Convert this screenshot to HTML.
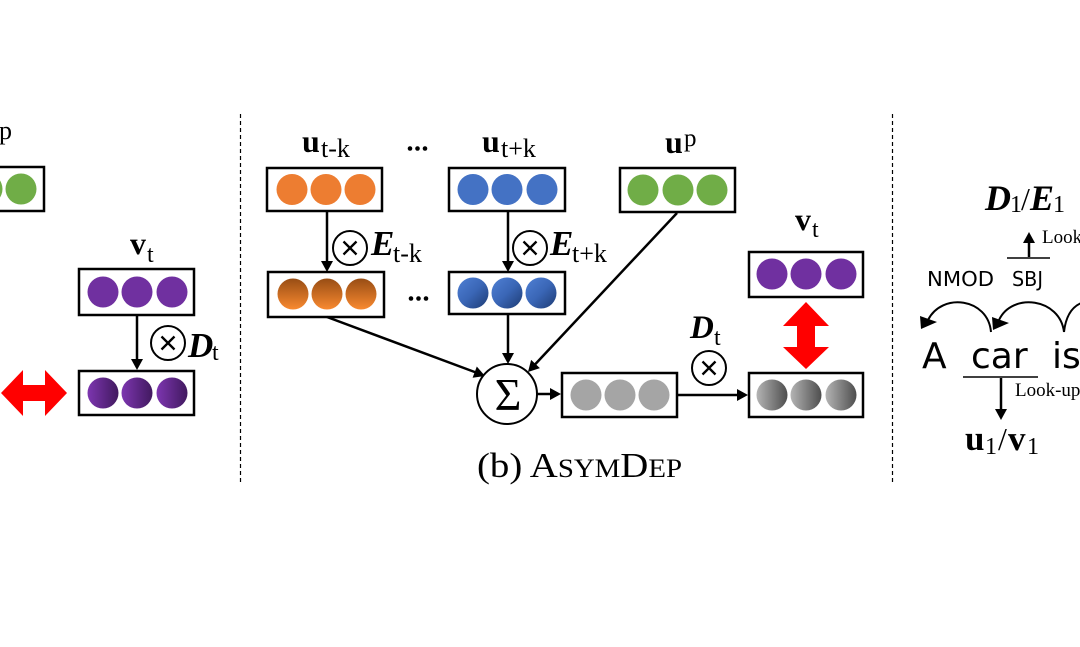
<!DOCTYPE html>
<html><head><meta charset="utf-8"><style>
html,body{margin:0;padding:0;background:#fff;width:1080px;height:647px;overflow:hidden}
svg{display:block}
.m{font-family:"Liberation Serif",serif}
.s{font-family:"DejaVu Sans","Liberation Sans",sans-serif}
</style></head><body>
<svg width="1080" height="647" viewBox="0 0 1080 647" xmlns="http://www.w3.org/2000/svg">
<defs>
<linearGradient id="gp" x1="0" y1="0" x2="1" y2="0"><stop offset="0" stop-color="#7d36b0"/><stop offset="1" stop-color="#41195f"/></linearGradient>
<linearGradient id="go" x1="0" y1="0" x2="0" y2="1"><stop offset="0" stop-color="#984d14"/><stop offset="1" stop-color="#f98a30"/></linearGradient>
<linearGradient id="gb" x1="0" y1="0" x2="1" y2="1"><stop offset="0" stop-color="#4f80d4"/><stop offset="0.5" stop-color="#3a66b6"/><stop offset="1" stop-color="#1d3b73"/></linearGradient>
<linearGradient id="gg" x1="0" y1="0" x2="1" y2="0"><stop offset="0" stop-color="#b4b4b4"/><stop offset="1" stop-color="#4e4e4e"/></linearGradient>
</defs>
<rect width="1080" height="647" fill="#fff"/>

<!-- dashed separators -->
<line x1="240.5" y1="114" x2="240.5" y2="482" stroke="#000" stroke-width="1.2" stroke-dasharray="4 3"/>
<line x1="892.5" y1="114" x2="892.5" y2="482" stroke="#000" stroke-width="1.2" stroke-dasharray="4 3"/>

<!-- ===== LEFT PANEL ===== -->
<text class="m" x="-1" y="139" font-size="26">p</text>
<rect x="-10" y="167" width="54" height="44" fill="#fff" stroke="#000" stroke-width="2.5"/>
<circle cx="-13" cy="189" r="15.5" fill="#70ad47"/>
<circle cx="21" cy="189" r="15.5" fill="#70ad47"/>

<text class="m" x="130" y="254" font-size="32" font-weight="bold">v</text>
<text class="m" x="147" y="262" font-size="24">t</text>
<rect x="79" y="269" width="115" height="46" fill="#fff" stroke="#000" stroke-width="2.5"/>
<circle cx="103" cy="292" r="15.5" fill="#7030a0"/>
<circle cx="137" cy="292" r="15.5" fill="#7030a0"/>
<circle cx="172" cy="292" r="15.5" fill="#7030a0"/>

<line x1="137" y1="316" x2="137" y2="360" stroke="#000" stroke-width="2.5"/>
<polygon points="131,359 143,359 137,370" fill="#000"/>
<circle cx="168" cy="343" r="17" fill="#fff" stroke="#000" stroke-width="2"/>
<path d="M161.5,336.5 L174.5,349.5 M174.5,336.5 L161.5,349.5" stroke="#000" stroke-width="2.3"/>
<text class="m" x="188" y="357" font-size="35" font-weight="bold" font-style="italic">D</text>
<text class="m" x="212" y="360" font-size="24">t</text>

<rect x="79" y="371" width="115" height="44" fill="#fff" stroke="#000" stroke-width="2.5"/>
<circle cx="103" cy="393" r="15.5" fill="url(#gp)"/>
<circle cx="137" cy="393" r="15.5" fill="url(#gp)"/>
<circle cx="172" cy="393" r="15.5" fill="url(#gp)"/>

<polygon points="1,393 23,370 23,385 45,385 45,370 67,393 45,416 45,401 23,401 23,416" fill="#ff0000"/>

<!-- ===== MIDDLE PANEL ===== -->
<text class="m" x="302" y="152" font-size="32" font-weight="bold">u</text>
<text class="m" x="321" y="157" font-size="26">t-k</text>
<circle cx="410" cy="148.5" r="2.3" fill="#000"/>
<circle cx="417.5" cy="148.5" r="2.3" fill="#000"/>
<circle cx="425" cy="148.5" r="2.3" fill="#000"/>
<text class="m" x="482" y="152" font-size="32" font-weight="bold">u</text>
<text class="m" x="501" y="157" font-size="26">t+k</text>
<text class="m" x="665" y="153" font-size="32" font-weight="bold">u</text>
<text class="m" x="684" y="146" font-size="25">p</text>

<rect x="267" y="168" width="115" height="43" fill="#fff" stroke="#000" stroke-width="2.5"/>
<circle cx="292" cy="189.5" r="15.5" fill="#ed7d31"/>
<circle cx="326" cy="189.5" r="15.5" fill="#ed7d31"/>
<circle cx="360" cy="189.5" r="15.5" fill="#ed7d31"/>

<rect x="449" y="168" width="116" height="43" fill="#fff" stroke="#000" stroke-width="2.5"/>
<circle cx="473" cy="189.5" r="15.5" fill="#4472c4"/>
<circle cx="507" cy="189.5" r="15.5" fill="#4472c4"/>
<circle cx="542" cy="189.5" r="15.5" fill="#4472c4"/>

<rect x="620" y="168" width="115" height="44" fill="#fff" stroke="#000" stroke-width="2.5"/>
<circle cx="643" cy="190" r="15.5" fill="#70ad47"/>
<circle cx="678" cy="190" r="15.5" fill="#70ad47"/>
<circle cx="712" cy="190" r="15.5" fill="#70ad47"/>

<!-- down arrows with E -->
<line x1="327" y1="212" x2="327" y2="262" stroke="#000" stroke-width="2.5"/>
<polygon points="321,261 333,261 327,272" fill="#000"/>
<circle cx="350" cy="248" r="17" fill="#fff" stroke="#000" stroke-width="2"/>
<path d="M343.5,241.5 L356.5,254.5 M356.5,241.5 L343.5,254.5" stroke="#000" stroke-width="2.3"/>
<text class="m" x="371" y="255" font-size="35" font-weight="bold" font-style="italic">E</text>
<text class="m" x="393" y="262" font-size="26">t-k</text>

<line x1="508" y1="212" x2="508" y2="262" stroke="#000" stroke-width="2.5"/>
<polygon points="502,261 514,261 508,272" fill="#000"/>
<circle cx="530" cy="248" r="17" fill="#fff" stroke="#000" stroke-width="2"/>
<path d="M523.5,241.5 L536.5,254.5 M536.5,241.5 L523.5,254.5" stroke="#000" stroke-width="2.3"/>
<text class="m" x="550" y="255" font-size="35" font-weight="bold" font-style="italic">E</text>
<text class="m" x="572" y="262" font-size="26">t+k</text>

<rect x="268" y="272" width="116" height="45" fill="#fff" stroke="#000" stroke-width="2.5"/>
<circle cx="293" cy="294" r="15.5" fill="url(#go)"/>
<circle cx="327" cy="294" r="15.5" fill="url(#go)"/>
<circle cx="361" cy="294" r="15.5" fill="url(#go)"/>
<circle cx="411" cy="298.5" r="2.3" fill="#000"/>
<circle cx="418.5" cy="298.5" r="2.3" fill="#000"/>
<circle cx="426" cy="298.5" r="2.3" fill="#000"/>

<rect x="449" y="272" width="116" height="42" fill="#fff" stroke="#000" stroke-width="2.5"/>
<circle cx="473" cy="293" r="15.5" fill="url(#gb)"/>
<circle cx="507" cy="293" r="15.5" fill="url(#gb)"/>
<circle cx="541" cy="293" r="15.5" fill="url(#gb)"/>

<!-- arrows into sigma -->
<line x1="327" y1="317" x2="476" y2="372.5" stroke="#000" stroke-width="2.5"/>
<polygon points="472.6,377.8 476.8,366.5 485,376" fill="#000"/>
<line x1="508" y1="315" x2="508" y2="354" stroke="#000" stroke-width="2.5"/>
<polygon points="502,353 514,353 508,364" fill="#000"/>
<line x1="677" y1="213" x2="534.5" y2="365" stroke="#000" stroke-width="2.5"/>
<polygon points="531.1,359.9 539.9,368.1 528,372" fill="#000"/>

<circle cx="507" cy="394" r="30" fill="#fff" stroke="#000" stroke-width="2"/>
<text class="m" x="508" y="410" font-size="46" text-anchor="middle">Σ</text>

<line x1="537" y1="394" x2="551" y2="394" stroke="#000" stroke-width="2.5"/>
<polygon points="550,388 550,400 561,394" fill="#000"/>

<rect x="562" y="373" width="115" height="44" fill="#fff" stroke="#000" stroke-width="2.5"/>
<circle cx="586" cy="395" r="15.5" fill="#a5a5a5"/>
<circle cx="620" cy="395" r="15.5" fill="#a5a5a5"/>
<circle cx="654" cy="395" r="15.5" fill="#a5a5a5"/>

<line x1="677" y1="395" x2="738" y2="395" stroke="#000" stroke-width="2.5"/>
<polygon points="737,389 737,401 748,395" fill="#000"/>
<circle cx="709" cy="368" r="17" fill="#fff" stroke="#000" stroke-width="2"/>
<path d="M702.5,361.5 L715.5,374.5 M715.5,361.5 L702.5,374.5" stroke="#000" stroke-width="2.3"/>
<text class="m" x="690" y="338" font-size="33" font-weight="bold" font-style="italic">D</text>
<text class="m" x="714" y="345" font-size="24">t</text>

<rect x="749" y="373" width="114" height="44" fill="#fff" stroke="#000" stroke-width="2.5"/>
<circle cx="772" cy="395" r="15.5" fill="url(#gg)"/>
<circle cx="806" cy="395" r="15.5" fill="url(#gg)"/>
<circle cx="841" cy="395" r="15.5" fill="url(#gg)"/>

<text class="m" x="795" y="230" font-size="32" font-weight="bold">v</text>
<text class="m" x="812" y="237" font-size="24">t</text>
<rect x="749" y="252" width="114" height="45" fill="#fff" stroke="#000" stroke-width="2.5"/>
<circle cx="772" cy="274" r="15.5" fill="#7030a0"/>
<circle cx="806" cy="274" r="15.5" fill="#7030a0"/>
<circle cx="841" cy="274" r="15.5" fill="#7030a0"/>

<polygon points="806,302 829,326 815,326 815,347 829,347 806,369 783,347 797,347 797,326 783,326" fill="#ff0000"/>

<text class="m" x="477" y="477" font-size="35" textLength="205" lengthAdjust="spacingAndGlyphs">(b) A<tspan font-size="26">SYM</tspan>D<tspan font-size="26">EP</tspan></text>

<!-- ===== RIGHT PANEL ===== -->
<text class="m" x="985" y="210" font-size="36" font-weight="bold" font-style="italic">D</text>
<text class="m" x="1010" y="212" font-size="24">1</text>
<text class="m" x="1021" y="210" font-size="32">/</text>
<text class="m" x="1030" y="210" font-size="36" font-weight="bold" font-style="italic">E</text>
<text class="m" x="1053" y="212" font-size="24">1</text>

<line x1="1029" y1="257" x2="1029" y2="242" stroke="#000" stroke-width="2.5"/>
<polygon points="1023,243 1035,243 1029,232" fill="#000"/>
<text class="m" x="1042" y="243" font-size="19">Look-up</text>
<line x1="1007" y1="258" x2="1050" y2="258" stroke="#000" stroke-width="1.5"/>

<text class="s" x="927" y="286" font-size="20" textLength="67" lengthAdjust="spacingAndGlyphs">NMOD</text>
<text class="s" x="1012" y="286" font-size="20" textLength="31" lengthAdjust="spacingAndGlyphs">SBJ</text>

<path d="M991,332 C988,298 942,292 928,320" fill="none" stroke="#000" stroke-width="2"/>
<polygon points="921,329 920,316 937,322" fill="#000"/>
<path d="M1064,332 C1060,298 1012,292 999,320" fill="none" stroke="#000" stroke-width="2"/>
<polygon points="993,330 992,317 1009,323" fill="#000"/>
<path d="M1064,332 C1066,314 1074,305 1084,302" fill="none" stroke="#000" stroke-width="2"/>

<text class="s" x="922" y="368" font-size="36">A</text>
<text class="s" x="971" y="368" font-size="36">car</text>
<text class="s" x="1052" y="368" font-size="36">is</text>
<line x1="963" y1="377" x2="1038" y2="377" stroke="#000" stroke-width="1.5"/>

<line x1="1001" y1="378" x2="1001" y2="410" stroke="#000" stroke-width="2.5"/>
<polygon points="995,409 1007,409 1001,420" fill="#000"/>
<text class="m" x="1015" y="396" font-size="19">Look-up</text>

<text class="m" x="965" y="450" font-size="35" font-weight="bold">u</text>
<text class="m" x="985" y="454" font-size="24">1</text>
<text class="m" x="998" y="450" font-size="32">/</text>
<text class="m" x="1008" y="450" font-size="35" font-weight="bold">v</text>
<text class="m" x="1027" y="454" font-size="24">1</text>
</svg>
</body></html>
